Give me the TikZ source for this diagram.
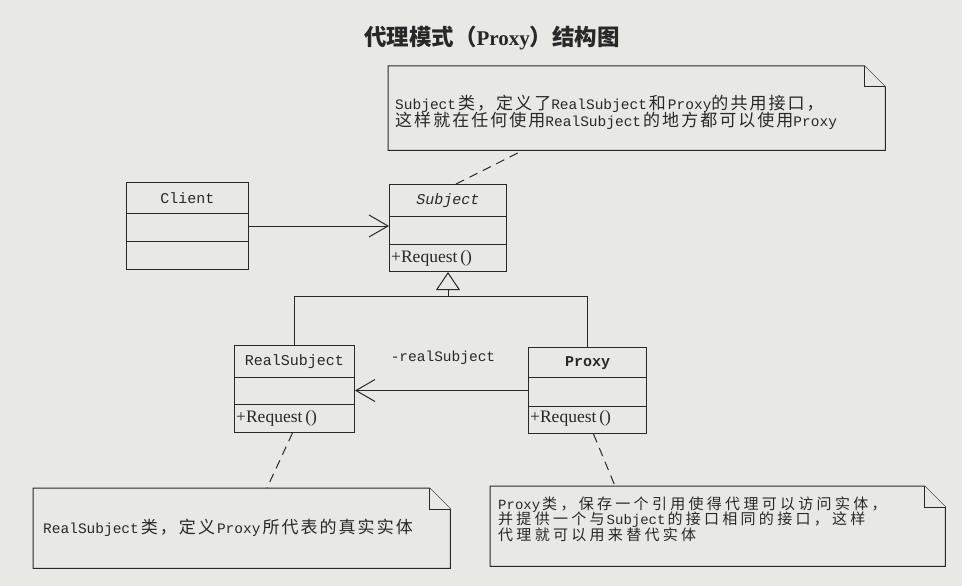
\documentclass[tikz,border=0pt]{standalone}
\usepackage{fontspec}
\setmainfont{Liberation Serif}
\newfontfamily\cjk[LetterSpace=12]{Noto Sans CJK SC}
\newfontfamily\cjkw[LetterSpace=22]{Noto Sans CJK SC}
\newfontfamily\cjkt{Noto Sans CJK SC}
\newfontfamily\mono{Liberation Mono}
\usetikzlibrary{arrows.meta,calc}
\definecolor{paper}{RGB}{232,232,229}
\definecolor{ink}{RGB}{40,40,40}
\newcommand\cj[1]{{\cjk\fontsize{17}{17}\selectfont #1}}
\newcommand\cs[1]{{\cjkw\fontsize{15}{15.5}\selectfont #1}}
\newcommand\g{\hspace{2pt}}
\newcommand\tightlines{\lineskiplimit -100pt\relax}
\newcommand\drawnote[1]{%
  \draw[notebox] (#1.north west) -- ([xshift=-21pt]#1.north east) -- ([yshift=-21pt]#1.north east) -- (#1.south east) -- (#1.south west) -- cycle;
  \draw[notebox] ([xshift=-21pt]#1.north east) -- ([xshift=-21pt,yshift=-21pt]#1.north east) -- ([yshift=-21pt]#1.north east);}
\tikzset{
  cls/.style={draw=ink, fill=paper, line width=1pt, inner sep=0pt, anchor=north west},
  notebox/.style={draw=ink, fill=paper, line width=1pt},
  noteframe/.style={inner sep=0pt, anchor=north west},
  clsname/.style={font=\mono\fontsize{15}{17}\selectfont, text=ink, inner sep=0pt},
  method/.style={font=\fontsize{17.5}{19}\selectfont, text=ink, inner sep=0pt, anchor=west},
  notetext/.style={font=\mono\fontsize{14.5}{17}\selectfont\tightlines, text=ink, inner sep=0pt, align=left, anchor=base west},
  dep/.style={draw=ink, line width=1pt, dash pattern=on 9pt off 6pt},
  assoc/.style={draw=ink, line width=1pt, -{Straight Barb[length=19pt,width=22pt,line width=1pt]}},
  inherit/.style={draw=ink, line width=1pt, -{Triangle[open,length=18pt,width=24pt,line width=1pt,fill=paper]}},
  conn/.style={draw=ink, line width=1pt}
}
\begin{document}
\begin{tikzpicture}[x=1pt,y=-1pt]
\fill[paper] (0,0) rectangle (962,586);
\useasboundingbox (0,0) rectangle (962,586);

% title
\node[text=ink, inner sep=0pt] (title) at (492,38) {\fontsize{21}{24}\selectfont\bfseries{\cjkt\fontsize{22.5}{24}\selectfont 代理模式（}Proxy{\cjkt\fontsize{22.5}{24}\selectfont ）结构图}};

% notes
\node[noteframe, minimum width=497pt, minimum height=84pt] (note1) at (388,66) {};
\drawnote{note1}
\node[notetext] (note1text) at (395,126) {Subject\g\cj{类，定义了}RealSubject\g\cj{和}\g Proxy\cj{的共用接口，}\\\cj{这样就在任何使用}RealSubject\g\cj{的地方都可以使用}Proxy};

\node[noteframe, minimum width=417pt, minimum height=80pt] (note2) at (33,488) {};
\drawnote{note2}
\node[notetext] (note2text) at (43,533) {RealSubject\g\cj{类，定义}\g Proxy\g\cj{所代表的真实实体}};

\node[noteframe, minimum width=455pt, minimum height=80pt] (note3) at (490,486) {};
\drawnote{note3}
\node[notetext, font=\mono\fontsize{14}{15.5}\selectfont\tightlines] (note3text) at (498,540) {Proxy\g\cs{类，保存一个引用使得代理可以访问实体，}\\\cs{并提供一个与}\g Subject\g\cs{的接口相同的接口，这样}\\\cs{代理就可以用来替代实体}};

% classes
\node[cls, minimum width=122pt, minimum height=87pt] (client) at (126,182) {};
\draw[conn] ([yshift=-31pt]client.north west) -- ([yshift=-31pt]client.north east);
\draw[conn] ([yshift=-59pt]client.north west) -- ([yshift=-59pt]client.north east);
\node[clsname] (clientname) at ([yshift=-16pt]client.north) {Client};

\node[cls, minimum width=117pt, minimum height=87pt] (subject) at (389,184) {};
\draw[conn] ([yshift=-32pt]subject.north west) -- ([yshift=-32pt]subject.north east);
\draw[conn] ([yshift=-60pt]subject.north west) -- ([yshift=-60pt]subject.north east);
\node[clsname, font=\mono\itshape\fontsize{15}{17}\selectfont] (subjectname) at ([yshift=-17pt]subject.north) {Subject};
\node[method] (subjectop) at ([xshift=2pt,yshift=14pt]subject.south west) {+Request\,()};

\node[cls, minimum width=120pt, minimum height=87pt] (real) at (234,345) {};
\draw[conn] ([yshift=-32pt]real.north west) -- ([yshift=-32pt]real.north east);
\draw[conn] ([yshift=-59pt]real.north west) -- ([yshift=-59pt]real.north east);
\node[clsname] (realname) at ([yshift=-17pt]real.north) {RealSubject};
\node[method] (realop) at ([xshift=2pt,yshift=15pt]real.south west) {+Request\,()};

\node[cls, minimum width=118pt, minimum height=86pt] (proxy) at (528,347) {};
\draw[conn] ([yshift=-30pt]proxy.north west) -- ([yshift=-30pt]proxy.north east);
\draw[conn] ([yshift=-59pt]proxy.north west) -- ([yshift=-59pt]proxy.north east);
\node[clsname, font=\mono\bfseries\fontsize{15}{17}\selectfont] (proxyname) at ([yshift=-16pt]proxy.north) {Proxy};
\node[method] (proxyop) at ([xshift=2pt,yshift=16pt]proxy.south west) {+Request\,()};

% connectors
\draw[assoc] (client.east) -- (subject.west |- client.east);
\path (subject.south) ++(0,24) coordinate (bus);
\draw[conn] (real.north) |- (bus);
\draw[conn] (bus) -| (proxy.north);
\draw[inherit] (bus) -- (subject.south);
\draw[assoc] (proxy.west) -- (real.east |- proxy.west);
\node[clsname, font=\mono\fontsize{14.5}{17}\selectfont] (rolelabel) at (443,358) {-realSubject};

\draw[dep] ([xshift=8pt]subject.north) -- ([xshift=135pt]note1.south west);
\draw[dep] ([xshift=-2pt]real.south) -- ([xshift=234pt]note2.north west);
\draw[dep] ([xshift=6pt]proxy.south) -- ([xshift=125pt]note3.north west);
\end{tikzpicture}
\end{document}
